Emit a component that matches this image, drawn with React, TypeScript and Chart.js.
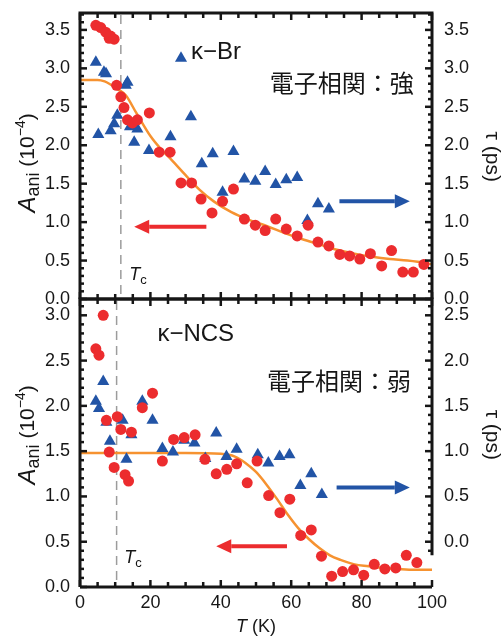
import React, { useEffect, useRef } from 'react';
import { Chart, registerables } from 'chart.js';

Chart.register(...registerables);

// ---------- shared ----------
const xTickValues = [0, 20, 40, 60, 80, 100];

// ---------- κ-Br (top panel) ----------
const brAniT = [4.5, 5.9, 7.3, 8.3, 8.7, 9.7, 10.4, 11.6, 12.5, 13.5, 14.9, 16.3, 19.7, 22.5, 25.6, 28.7, 31.7, 34.4, 37.5, 40.5, 43.6, 46.7, 49.8, 52.6, 55.6, 58.6, 61.7, 64.8, 67.6, 70.7, 73.8, 76.6, 79.5, 82.5, 85.7, 88.5, 91.7, 94.7, 97.7];
const brAniA = [3.56, 3.53, 3.47, 3.39, 3.42, 3.38, 2.78, 2.63, 2.49, 2.33, 2.29, 2.33, 2.42, 1.91, 1.91, 1.51, 1.51, 1.30, 1.12, 1.27, 1.43, 1.04, 0.96, 0.89, 1.04, 0.91, 0.82, 0.96, 0.74, 0.69, 0.58, 0.56, 0.52, 0.59, 0.43, 0.63, 0.35, 0.35, 0.45];
const brTauT = [4.5, 5.2, 6.8, 7.4, 8.7, 9.7, 10.6, 13.0, 13.5, 14.2, 15.4, 16.3, 19.6, 25.7, 28.7, 31.5, 34.6, 37.7, 40.5, 43.6, 46.7, 49.8, 52.6, 55.6, 58.6, 61.7, 64.6, 67.6, 70.7];
const brTau = [3.08, 2.14, 2.95, 2.93, 2.19, 2.28, 2.39, 2.78, 2.82, 2.24, 2.04, 2.21, 1.93, 2.11, 3.13, 2.37, 1.76, 1.89, 1.39, 1.92, 1.56, 1.53, 1.66, 1.49, 1.55, 1.58, 1.02, 1.24, 1.17];
const brFitT = [0, 5, 7, 9, 11, 13, 16, 20, 23, 26, 30, 34, 38, 43, 48, 53, 58, 63, 68, 73, 78, 83, 88, 93, 98, 100];
const brFitA = [2.85, 2.85, 2.83, 2.78, 2.72, 2.65, 2.42, 2.12, 1.95, 1.81, 1.61, 1.42, 1.27, 1.13, 1.03, 0.95, 0.86, 0.78, 0.71, 0.64, 0.59, 0.55, 0.52, 0.50, 0.47, 0.45];
const brLeftTicks = [0, 0.5, 1.0, 1.5, 2.0, 2.5, 3.0, 3.5];
const brRightTicks = [0, 0.5, 1.0, 1.5, 2.0, 2.5, 3.0, 3.5];
const brTc = 11.6;

// ---------- κ-NCS (bottom panel) ----------
const ncsAniT = [4.5, 5.4, 6.6, 7.5, 8.3, 9.7, 10.6, 11.6, 12.8, 13.8, 14.6, 17.7, 20.6, 23.4, 26.6, 29.6, 32.7, 35.5, 38.7, 41.7, 44.5, 47.5, 50.3, 53.6, 56.8, 59.6, 62.7, 65.7, 68.6, 71.5, 74.6, 77.7, 80.6, 83.6, 86.6, 89.7, 92.7, 95.7];
const ncsAniA = [2.63, 2.56, 3.00, 1.84, 1.49, 1.32, 1.88, 1.74, 1.24, 1.17, 1.71, 1.98, 2.14, 1.39, 1.63, 1.65, 1.68, 1.41, 1.25, 1.30, 1.36, 1.15, 1.39, 1.01, 0.82, 0.97, 0.57, 0.63, 0.34, 0.12, 0.17, 0.19, 0.13, 0.25, 0.20, 0.21, 0.35, 0.27];
const ncsTauT = [4.5, 5.4, 6.6, 7.5, 8.5, 12.1, 13.2, 14.6, 17.7, 20.6, 23.4, 26.4, 29.6, 32.5, 35.6, 38.7, 41.6, 44.5, 50.5, 53.5, 56.7, 59.5, 62.6, 65.7, 68.7];
const ncsTau = [1.55, 1.47, 1.77, 1.32, 1.11, 1.34, 0.91, 1.18, 1.55, 1.34, 1.03, 0.99, 1.12, 1.09, 0.92, 1.20, 0.94, 1.02, 0.96, 0.87, 0.94, 0.96, 0.62, 0.75, 0.52];
const ncsFitT = [0, 10, 20, 30, 40, 44, 47, 50, 53, 56, 59, 62, 65, 68, 71, 74, 78, 82, 86, 90, 95, 100];
const ncsFitA = [1.48, 1.48, 1.48, 1.48, 1.47, 1.44, 1.37, 1.27, 1.13, 0.97, 0.80, 0.65, 0.53, 0.43, 0.35, 0.30, 0.25, 0.23, 0.21, 0.20, 0.19, 0.19];
const ncsLeftTicks = [0, 0.5, 1.0, 1.5, 2.0, 2.5, 3.0];
const ncsRightTicks = [0, 0.5, 1.0, 1.5, 2.0, 2.5];
const ncsTc = 10.4;

// ---------- styles ----------
const RED = 'rgb(236,44,46)';
const BLUE = 'rgb(34,84,166)';
const ORANGE = 'rgb(246,146,48)';
const INK = '#161616';
const SANS = '"Liberation Sans", Arial, sans-serif';
const CJK = '"Noto Sans CJK JP", sans-serif';

type Run = { t: string; f: string; dy: number };

function drawRuns(ctx: CanvasRenderingContext2D, runs: Run[], cx: number, cy: number, angle: number, align: 'center' | 'left') {
  ctx.save();
  ctx.translate(cx, cy);
  ctx.rotate(angle);
  ctx.textBaseline = 'middle';
  ctx.textAlign = 'left';
  let total = 0;
  for (const r of runs) { ctx.font = r.f; total += ctx.measureText(r.t).width; }
  let x = align === 'center' ? -total / 2 : 0;
  for (const r of runs) {
    ctx.font = r.f;
    ctx.fillText(r.t, x, r.dy);
    x += ctx.measureText(r.t).width;
  }
  ctx.restore();
}

function drawArrow(ctx: CanvasRenderingContext2D, x0: number, x1: number, y: number, color: string) {
  const dir = x1 > x0 ? 1 : -1;
  const head = 15;
  const half = 7;
  ctx.save();
  ctx.strokeStyle = color;
  ctx.fillStyle = color;
  ctx.lineWidth = 4;
  ctx.beginPath();
  ctx.moveTo(x0, y);
  ctx.lineTo(x1 - dir * head, y);
  ctx.stroke();
  ctx.beginPath();
  ctx.moveTo(x1, y);
  ctx.lineTo(x1 - dir * head, y - half);
  ctx.lineTo(x1 - dir * head, y + half);
  ctx.closePath();
  ctx.fill();
  ctx.restore();
}

type PanelCfg = {
  aniT: number[]; aniA: number[]; tauT: number[]; tau: number[]; fitT: number[]; fitA: number[];
  leftTicks: number[]; rightTicks: number[];
  leftMin: number; leftMax: number; rightMin: number; rightMax: number; rightFloor: number;
  tc: number; name: string; corr: string;
  nameAt: [number, number]; corrAt: [number, number]; tcAt: [number, number];
  redArrow: [number, number, number]; blueArrow: [number, number, number];
  leftTitleV: number; rightTitleV: number;
  showX: boolean; canvasTop: number; canvasHeight: number; padTop: number; padBottom: number; xAxisHeight: number;
};

const topPanel: PanelCfg = {
  aniT: brAniT, aniA: brAniA, tauT: brTauT, tau: brTau, fitT: brFitT, fitA: brFitA,
  leftTicks: brLeftTicks, rightTicks: brRightTicks,
  leftMin: 0, leftMax: 3.72, rightMin: 0, rightMax: 3.72, rightFloor: 0,
  tc: brTc, name: 'κ−Br', corr: '電子相関：強',
  nameAt: [31.5, 3.21], corrAt: [53.9, 2.81], tcAt: [14.0, 0.31],
  redArrow: [0.94, 35.9, 15.4], blueArrow: [1.27, 73.7, 93.7],
  leftTitleV: 1.77, rightTitleV: 1.85,
  showX: false, canvasTop: 0, canvasHeight: 312, padTop: 13, padBottom: 13, xAxisHeight: 0,
};

const bottomPanel: PanelCfg = {
  aniT: ncsAniT, aniA: ncsAniA, tauT: ncsTauT, tau: ncsTau, fitT: ncsFitT, fitA: ncsFitA,
  leftTicks: ncsLeftTicks, rightTicks: ncsRightTicks,
  leftMin: 0, leftMax: 3.18, rightMin: -0.5, rightMax: 2.68, rightFloor: -0.15,
  tc: ncsTc, name: 'κ−NCS', corr: '電子相関：弱',
  nameAt: [22.0, 2.79], corrAt: [53.1, 2.28], tcAt: [12.6, 0.32],
  redArrow: [0.45, 58.8, 38.7], blueArrow: [0.60, 72.9, 93.7],
  leftTitleV: 1.68, rightTitleV: 1.68,
  showX: true, canvasTop: 286, canvasHeight: 350, padTop: 13, padBottom: 0, xAxisHeight: 49,
};

function makeDecor(p: PanelCfg) {
  return {
    id: 'decor',
    beforeDatasetsDraw(chart: any) {
      const { ctx, chartArea: a, scales } = chart;
      const x = scales.x.getPixelForValue(p.tc);
      ctx.save();
      ctx.strokeStyle = '#9c9c9c';
      ctx.lineWidth = 1.5;
      ctx.setLineDash([9, 6]);
      ctx.beginPath();
      ctx.moveTo(x, a.top + 2);
      ctx.lineTo(x, a.bottom);
      ctx.stroke();
      ctx.restore();
    },
    afterDatasetsDraw(chart: any) {
      const { ctx, chartArea: a, scales } = chart;
      const sx = scales.x, sy = scales.y, sy2 = scales.y2;
      ctx.save();
      ctx.strokeStyle = INK;
      ctx.fillStyle = INK;
      ctx.lineCap = 'butt';
      // frame
      const rFloor = sy2.getPixelForValue(p.rightFloor);
      ctx.lineWidth = 3;
      ctx.beginPath();
      ctx.moveTo(a.left, a.bottom);
      ctx.lineTo(a.left, a.top);
      ctx.lineTo(a.right, a.top);
      ctx.lineTo(a.right, rFloor);
      ctx.moveTo(a.left, a.bottom);
      ctx.lineTo(a.right, a.bottom);
      ctx.stroke();
      // ticks
      ctx.lineWidth = 2.5;
      const seg = (x0: number, y0: number, x1: number, y1: number) => {
        ctx.beginPath(); ctx.moveTo(x0, y0); ctx.lineTo(x1, y1); ctx.stroke();
      };
      for (let k = 0; k <= 20; k++) {
        const v = k * 5;
        const px = sx.getPixelForValue(v);
        const len = v % 20 === 0 ? 7 : 5;
        seg(px, a.top, px, a.top + len);
        seg(px, a.bottom, px, a.bottom - len);
      }
      for (let k = Math.ceil(p.leftMin * 10 - 1e-6); k <= Math.floor(p.leftMax * 10 + 1e-6); k++) {
        const py = sy.getPixelForValue(k / 10);
        const len = k % 5 === 0 ? 7 : 4;
        seg(a.left, py, a.left + len, py);
      }
      for (let k = Math.ceil(p.rightFloor * 10 - 1e-6); k <= Math.floor(p.rightMax * 10 + 1e-6); k++) {
        const py = sy2.getPixelForValue(k / 10);
        const len = k % 5 === 0 ? 7 : 4;
        seg(a.right, py, a.right - len, py);
      }
      ctx.restore();

      // arrows
      drawArrow(ctx, sx.getPixelForValue(p.redArrow[1]), sx.getPixelForValue(p.redArrow[2]), sy.getPixelForValue(p.redArrow[0]), RED);
      drawArrow(ctx, sx.getPixelForValue(p.blueArrow[1]), sx.getPixelForValue(p.blueArrow[2]), sy2.getPixelForValue(p.blueArrow[0]), BLUE);

      // texts
      ctx.save();
      ctx.fillStyle = INK;
      drawRuns(ctx, [{ t: p.name, f: `24px ${SANS}`, dy: 0 }], sx.getPixelForValue(p.nameAt[0]), sy.getPixelForValue(p.nameAt[1]), 0, 'left');
      drawRuns(ctx, [{ t: p.corr, f: `24px ${CJK}`, dy: 0 }], sx.getPixelForValue(p.corrAt[0]), sy.getPixelForValue(p.corrAt[1]), 0, 'left');
      drawRuns(ctx, [
        { t: 'T', f: `italic 18px ${SANS}`, dy: 0 },
        { t: 'c', f: `13px ${SANS}`, dy: 5 },
      ], sx.getPixelForValue(p.tcAt[0]), sy.getPixelForValue(p.tcAt[1]), 0, 'left');

      // left axis title
      drawRuns(ctx, [
        { t: 'A', f: `italic 24px ${SANS}`, dy: 0 },
        { t: 'ani', f: `18px ${SANS}`, dy: 6 },
        { t: ' (10', f: `21px ${SANS}`, dy: 0 },
        { t: '−4', f: `14px ${SANS}`, dy: -7 },
        { t: ')', f: `21px ${SANS}`, dy: 0 },
      ], 28, sy.getPixelForValue(p.leftTitleV), -Math.PI / 2, 'center');
      // right axis title
      drawRuns(ctx, [{ t: 'τ (ps)', f: `21px ${SANS}`, dy: 0 }], 492, sy.getPixelForValue(p.rightTitleV), Math.PI / 2, 'center');

      if (p.showX) {
        drawRuns(ctx, [
          { t: 'T', f: `italic 18px ${SANS}`, dy: 0 },
          { t: ' (K)', f: `18px ${SANS}`, dy: 0 },
        ], sx.getPixelForValue(50), a.bottom + 40, 0, 'center');
      }
      ctx.restore();
    },
  };
}

const zeroPad = (s: any) => {
  s.paddingTop = 0;
  s.paddingBottom = 0;
  s.paddingLeft = 0;
  s.paddingRight = 0;
};

function PanelChart({ p }: { p: PanelCfg }) {
  const ref = useRef<HTMLCanvasElement>(null);
  useEffect(() => {
    const canvas = ref.current;
    if (!canvas) return;
    const pts = (xs: number[], ys: number[]) => xs.map((x, i) => ({ x, y: ys[i] }));
    const fmt = (v: any) => Number(v).toFixed(1);
    const chart = new Chart(canvas, {
      type: 'scatter',
      data: {
        datasets: [
          {
            data: pts(p.fitT, p.fitA), yAxisID: 'y', showLine: true, borderColor: ORANGE, borderWidth: 2.5,
            pointRadius: 0, cubicInterpolationMode: 'monotone', order: 3, fill: false,
          } as any,
          {
            data: pts(p.tauT, p.tau), yAxisID: 'y2', pointStyle: 'triangle', pointRadius: 7,
            backgroundColor: BLUE, borderColor: BLUE, borderWidth: 0, order: 2,
          },
          {
            data: pts(p.aniT, p.aniA), yAxisID: 'y', pointStyle: 'circle', pointRadius: 5.5,
            backgroundColor: RED, borderColor: RED, borderWidth: 0, order: 1,
          },
        ],
      },
      options: {
        responsive: false,
        maintainAspectRatio: false,
        animation: false,
        events: [],
        layout: { padding: { top: p.padTop, bottom: p.padBottom, left: 0, right: 0 } },
        plugins: { legend: { display: false }, tooltip: { enabled: false } },
        scales: {
          x: {
            type: 'linear', min: 0, max: 100, display: p.showX,
            grid: { display: false, drawTicks: false }, border: { display: false },
            afterBuildTicks: (s: any) => { s.ticks = xTickValues.map((v) => ({ value: v })); },
            afterFit: (s: any) => { s.height = p.xAxisHeight; zeroPad(s); },
            ticks: { font: { family: SANS, size: 18 }, color: INK, padding: 5, maxRotation: 0, autoSkip: false, callback: (v: any) => String(v) },
          },
          y: {
            type: 'linear', position: 'left', min: p.leftMin, max: p.leftMax,
            grid: { display: false, drawTicks: false }, border: { display: false },
            afterBuildTicks: (s: any) => { s.ticks = p.leftTicks.map((v) => ({ value: v })); },
            afterFit: (s: any) => { s.width = 80; zeroPad(s); },
            ticks: { font: { family: SANS, size: 18 }, color: INK, padding: 10, autoSkip: false, callback: fmt },
          },
          y2: {
            type: 'linear', position: 'right', min: p.rightMin, max: p.rightMax,
            grid: { display: false, drawTicks: false }, border: { display: false },
            afterBuildTicks: (s: any) => { s.ticks = p.rightTicks.map((v) => ({ value: v })); },
            afterFit: (s: any) => { s.width = 72; zeroPad(s); },
            ticks: { font: { family: SANS, size: 18 }, color: INK, padding: 12, autoSkip: false, callback: fmt },
          },
        },
      } as any,
      plugins: [makeDecor(p)],
    });
    return () => chart.destroy();
  }, [p]);
  return (
    <canvas
      ref={ref}
      width={504}
      height={p.canvasHeight}
      style={{ position: 'absolute', left: 0, top: p.canvasTop, display: 'block' }}
    />
  );
}

export default function App() {
  return (
    <div style={{ position: 'absolute', left: 0, top: 0, width: 504, height: 636, background: '#fff' }}>
      <PanelChart p={topPanel} />
      <PanelChart p={bottomPanel} />
    </div>
  );
}
